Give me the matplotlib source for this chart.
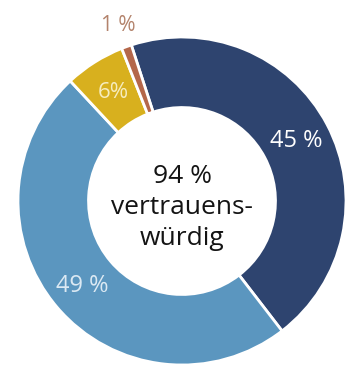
import numpy as np
import matplotlib
matplotlib.use('Agg')
import matplotlib.pyplot as plt

# share of answers, clockwise from the top
labels = ['45 %', '49 %', '6%', '1 %']
values = [45, 49, 6, 1]
colors = ['#2e446f', '#5b96bf', '#d8b01e', '#b4674a']
label_colors = ['#ffffff', '#dce9f3', '#f6ecbf', '#b3836c']
label_dist = [0.79, 0.80, 0.78, 1.14]
label_size = [17, 17, 16, 15]
center_text = '94 %\nvertrauens-\nwürdig'

plt.rcParams['font.family'] = ['Open Sans', 'DejaVu Sans']

W, H = 349, 368
fig = plt.figure(figsize=(W / 100, H / 100), dpi=100)
cx, cy, r = 182, 167, 164
ax = fig.add_axes([(cx - r) / W, (cy - r) / H, 2 * r / W, 2 * r / H])

wedges, _ = ax.pie(values, colors=colors, startangle=108, counterclock=False,
                   radius=1, wedgeprops=dict(width=0.43, edgecolor='white', linewidth=2))

for w, lab, c, d, s in zip(wedges, labels, label_colors, label_dist, label_size):
    ang = np.deg2rad((w.theta1 + w.theta2) / 2)
    ax.text(d * np.cos(ang), d * np.sin(ang), lab, ha='center', va='center',
            color=c, fontsize=s)

ax.text(0, -0.04, center_text, ha='center', va='center', fontsize=19,
        color='#141414', linespacing=1.32)

ax.set_xlim(-1, 1)
ax.set_ylim(-1, 1)
ax.set_aspect('equal')
ax.axis('off')

fig.savefig('out.png', dpi=100)
